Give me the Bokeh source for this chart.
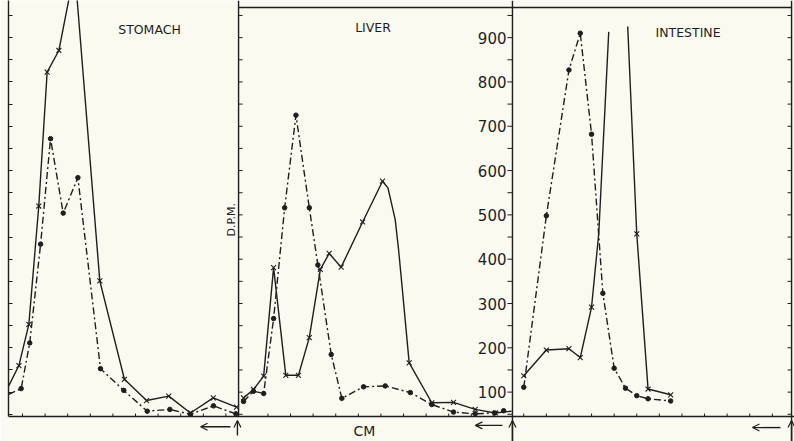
import math
import numpy as np
from bokeh.plotting import figure
from bokeh.models import Range1d, FixedTicker, LinearAxis, Span, Label, Arrow, OpenHead
from bokeh.embed import file_html
from bokeh.resources import INLINE
from bokeh.core.properties import value

nan = float("nan")

# ---------------- data (x in cm from the left edge of each panel, y in D.P.M.) -------------
panel_names = ["STOMACH", "LIVER", "INTESTINE"]
panel_widths = [10.18, 12.12, 12.35]

stomach_solid_x = [0.01, 0.46, 0.90, 1.34, 1.71, 2.23, 2.93, 4.04, 5.13, 6.11, 7.09, 8.05, 9.06, 10.09]
stomach_solid_y = [114, 160, 253, 520, 822, 871, 1054, 351, 129, 81, 91, 53, 87, 66]
stomach_solid_mark = [0, 1, 1, 1, 1, 1, 0, 1, 1, 1, 1, 1, 1, 1]
stomach_dash_x = [0.01, 0.56, 0.94, 1.42, 1.86, 2.42, 3.07, 4.07, 5.10, 6.14, 7.14, 8.05, 9.07, 10.06]
stomach_dash_y = [95, 108, 211, 434, 672, 504, 584, 153, 104, 57, 61, 50, 69, 51]
stomach_dash_mark = [0, 1, 1, 1, 1, 1, 1, 1, 1, 1, 1, 1, 1, 1]

liver_solid_x = [0.22, 0.66, 1.11, 1.55, 2.09, 2.65, 3.13, 3.62, 4.01, 4.54, 5.49, 6.37,
                 6.61, 6.93, 7.08, 7.26, 7.55, 8.55, 9.51, 10.47, 11.36, 12.08]
liver_solid_y = [87, 106, 136, 381, 138, 138, 223, 377, 413, 382, 484, 576,
                 561, 490, 422, 325, 166, 76, 77, 61, 53, 57]
liver_solid_mark = [1, 1, 1, 1, 1, 1, 1, 1, 1, 1, 1, 1, 0, 0, 0, 0, 1, 1, 1, 1, 1, 0]
liver_dash_x = [0.22, 0.66, 1.11, 1.55, 2.04, 2.54, 3.13, 3.51, 4.10, 4.57, 5.53, 6.49,
                7.60, 8.55, 9.51, 10.47, 11.33, 11.73]
liver_dash_y = [79, 102, 97, 266, 516, 725, 516, 387, 185, 86, 112, 114, 99, 72, 55, 51, 53, 58]
liver_dash_mark = [1] * 18

intestine_solid_x = [0.5, 1.5, 2.5, 3.0, 3.5, 3.82, 4.26, nan, 5.10, 5.5, 6.0, 7.0]
intestine_solid_y = [137, 195, 198, 178, 292, 459, 913, nan, 925, 457, 107, 94]
intestine_solid_mark = [1, 1, 1, 1, 1, 0, 0, 0, 0, 1, 1, 1]
intestine_dash_x = [0.5, 1.5, 2.5, 3.0, 3.5, 4.0, 4.5, 5.0, 5.5, 6.0, 7.0]
intestine_dash_y = [111, 498, 827, 910, 682, 323, 154, 109, 92, 85, 80]
intestine_dash_mark = [1] * 11

stomach_ticks = [0.62, 1.62, 2.62, 3.62, 4.62, 5.62, 6.62, 7.62, 8.62, 9.62]
liver_ticks = [1.3, 2.3, 3.3, 4.3, 5.3, 6.3, 7.3, 8.3, 9.3, 10.3, 11.3]
intestine_ticks = [0.5, 1.5, 2.5, 3.5, 4.5, 5.5, 6.5, 7.5, 8.5, 9.5, 10.5, 11.5]

y_minor_ticks = [50, 100, 150, 200, 250, 300, 350, 400, 450, 500, 550, 600, 650,
                 700, 750, 800, 850, 900, 950]
y_label_ticks = [100, 200, 300, 400, 500, 600, 700, 800, 900]

# ---------------- styling / layout -------------
BG = "#fafaf1"
INK = "#1e1e1e"
FONT = "DejaVu Sans"
Y_BASE, Y_END = 45, 968          # the drawn base line and the top border of liver / intestine
Y_TOP = 983.8                     # the page is cut just above the top border
Y_BOTTOM = -11.4                  # room under the base line for the origin arrows and "CM"
LW = 1.4

offsets = [0.0, panel_widths[0], panel_widths[0] + panel_widths[1]]
total = sum(panel_widths)
X_END = total + 0.13

p = figure(frame_width=786, frame_height=441,
           x_range=Range1d(0, X_END), y_range=Range1d(Y_BOTTOM, Y_TOP),
           output_backend="svg", toolbar_location=None,
           x_axis_location=None, y_axis_location=None,
           min_border_left=8, min_border_right=0, min_border_top=0, min_border_bottom=0,
           background_fill_color=BG, border_fill_color=BG, outline_line_color=None)
p.grid.visible = False

p.extra_x_ranges = {
    "stomach": Range1d(-offsets[0], X_END - offsets[0]),
    "liver": Range1d(-offsets[1], X_END - offsets[1]),
    "intestine": Range1d(-offsets[2], X_END - offsets[2]),
}

left = LinearAxis(ticker=FixedTicker(ticks=y_minor_ticks, minor_ticks=[]),
                  major_tick_in=4, major_tick_out=0, minor_tick_in=0, minor_tick_out=0,
                  major_label_overrides={t: "" for t in y_minor_ticks},
                  major_label_standoff=0, major_label_text_font_size="0px",
                  axis_line_color=INK, axis_line_width=LW,
                  major_tick_line_color=INK, major_tick_line_width=1,
                  bounds=(Y_BASE, Y_TOP))
p.add_layout(left, "left")

# base line, top border and panel dividers
p.add_layout(Span(location=Y_BASE, dimension="width", line_color=INK, line_width=LW))
p.segment(x0=[offsets[1]], y0=[Y_END], x1=[total], y1=[Y_END], line_color=INK, line_width=LW)
p.segment(x0=[offsets[1]], y0=[Y_BASE], x1=[offsets[1]], y1=[Y_TOP], line_color=INK, line_width=LW)
p.add_layout(Span(location=offsets[2], dimension="height", line_color=INK, line_width=LW))
p.add_layout(Span(location=total, dimension="height", line_color=INK, line_width=LW))

# tick marks (cm along the base, D.P.M. on the panel edges)
x_ticks = ([t + offsets[0] for t in stomach_ticks] + [t + offsets[1] for t in liver_ticks]
           + [t + offsets[2] for t in intestine_ticks])
p.ray(x=x_ticks, y=[Y_BASE] * len(x_ticks), length=3, length_units="screen",
      angle=math.pi / 2, line_color=INK, line_width=1)
p.ray(x=[offsets[1]] * len(y_minor_ticks), y=y_minor_ticks, length=4, length_units="screen",
      angle=0, line_color=INK, line_width=1)
p.ray(x=[offsets[2]] * len(y_minor_ticks), y=y_minor_ticks, length=5, length_units="screen",
      angle=math.pi, line_color=INK, line_width=1)
p.ray(x=[total] * len(y_minor_ticks), y=y_minor_ticks, length=4, length_units="screen",
      angle=math.pi, line_color=INK, line_width=1)

# y tick labels on the liver / intestine divider
p.text(x=[offsets[2]] * len(y_label_ticks), y=y_label_ticks, text=[str(v) for v in y_label_ticks],
       x_offset=-6, text_align="right", text_baseline="middle",
       text_font=value(FONT), text_font_size="15px", text_color=INK)

DASH = "7 3 2 3"
series = [
    ("stomach", stomach_solid_x, stomach_solid_y, stomach_solid_mark, "solid"),
    ("stomach", stomach_dash_x, stomach_dash_y, stomach_dash_mark, DASH),
    ("liver", liver_solid_x, liver_solid_y, liver_solid_mark, "solid"),
    ("liver", liver_dash_x, liver_dash_y, liver_dash_mark, DASH),
    ("intestine", intestine_solid_x, intestine_solid_y, intestine_solid_mark, "solid"),
    ("intestine", intestine_dash_x, intestine_dash_y, intestine_dash_mark, DASH),
]
for rname, xs, ys, mk, dash in series:
    xa = np.array(xs, dtype=float)
    ya = np.array(ys, dtype=float)
    p.line(xa, ya, x_range_name=rname, line_color=INK, line_width=LW, line_dash=dash)
    m = np.array(mk, dtype=bool)
    if dash == "solid":
        p.scatter(xa[m], ya[m], x_range_name=rname, marker="x", size=7,
                  line_color=INK, line_width=1.1)
    else:
        p.scatter(xa[m], ya[m], x_range_name=rname, marker="circle", size=4.5,
                  line_color=INK, fill_color=INK)

# ---------------- annotations -------------
def lab(text, x, y, size, align="center", baseline="middle", angle=0.0):
    p.add_layout(Label(x=x, y=y, text=text, text_font=FONT, text_font_size=size,
                       text_color=INK, text_align=align, text_baseline=baseline, angle=angle))


def arrow(x0, y0, x1, y1):
    p.add_layout(Arrow(end=OpenHead(size=7, line_color=INK, line_width=1.2),
                       x_start=x0, y_start=y0, x_end=x1, y_end=y1,
                       line_color=INK, line_width=LW))


lab(panel_names[0], 6.24, 918, "12.5px")
lab(panel_names[1], 16.13, 923, "12.5px")
lab(panel_names[2], 30.07, 912, "12.5px")
lab("D.P.M.", 9.87, 489, "11px", angle=math.pi / 2)
lab("CM", 15.75, 13, "14px")

# origin markers: "<--" pointing away from each origin, and an upward arrow at it
arrow(9.82, 22, 8.50, 22)
arrow(10.13, 2, 10.13, 36)
arrow(21.86, 25, 20.66, 25)
arrow(offsets[2], Y_BOTTOM, offsets[2], 36)
arrow(34.16, 20, 32.92, 20)
arrow(total, Y_BOTTOM, total, 36)

open("out.html", "w").write(file_html(p, INLINE))
